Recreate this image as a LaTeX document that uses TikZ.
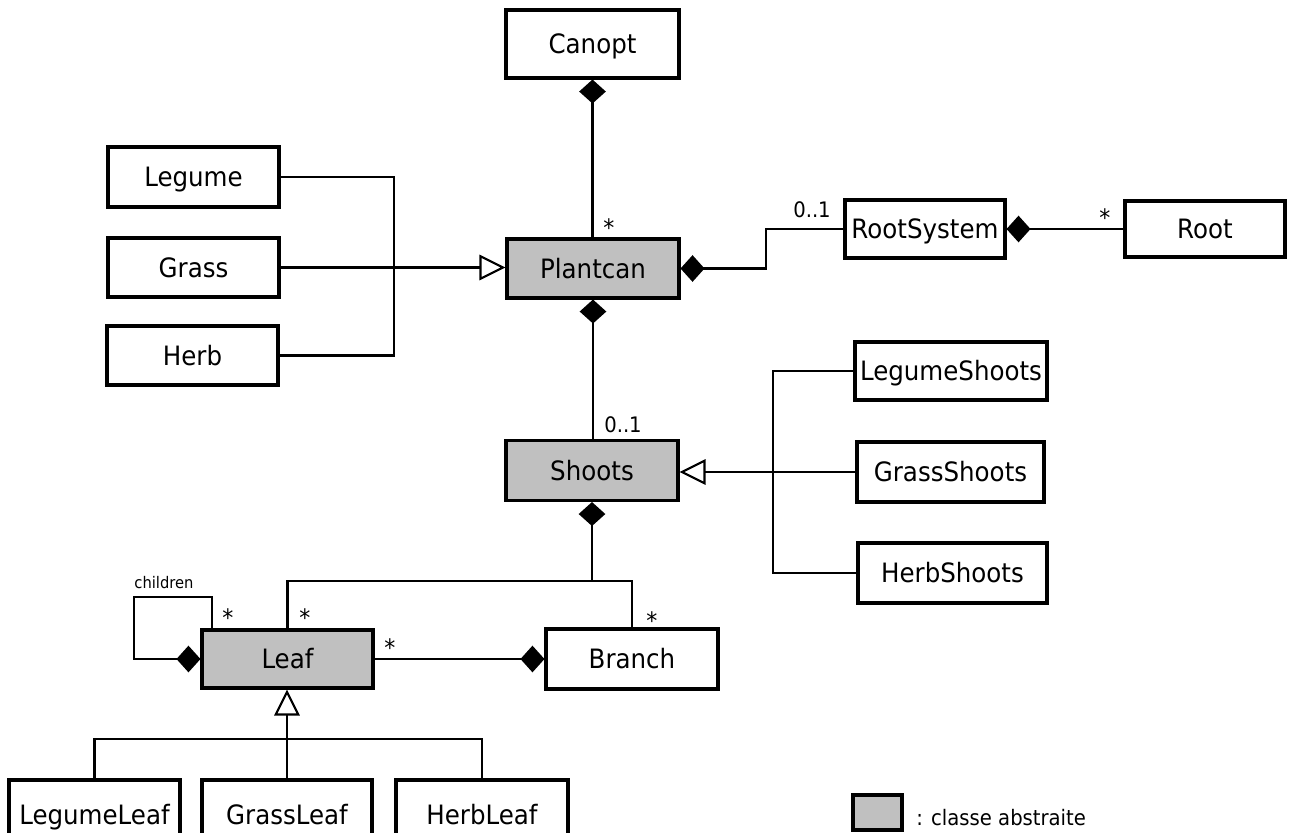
\documentclass[tikz,border=0pt]{standalone}
\usepackage{fontspec}
\setmainfont{DejaVu Sans}[FakeStretch=0.92]
\usetikzlibrary{arrows.meta}
\definecolor{abstractgray}{HTML}{C0C0C0}
\tikzset{
  cls/.style={draw=black, line width=2.3pt, fill=white, inner sep=0pt,
    font=\fontsize{20pt}{24pt}\selectfont, text height=14.6pt, text depth=0pt},
  abscls/.style={cls, fill=abstractgray},
  conn/.style={line width=2pt, line join=miter},
  comp/.tip={Diamond[length=18pt 0 1, width=20pt 0 1]},
  gen/.tip={Triangle[fill=white, length=19.5pt 0 1, width=19pt 0 1, line width=1.6pt]},
  mult/.style={anchor=base, inner sep=0pt, font=\fontsize{16pt}{18pt}\selectfont},
  star/.style={anchor=base, inner sep=0pt, font=\fontsize{18pt}{20pt}\selectfont},
  role/.style={anchor=base, inner sep=0pt, font=\fontsize{12pt}{14pt}\selectfont},
}
\begin{document}
\begin{tikzpicture}[x=0.75pt, y=-0.75pt]
\useasboundingbox (0,0) rectangle (1289,832);
\clip (0,0) rectangle (1289,832);

% classes
\node[cls, minimum width=129.75pt, minimum height=51pt] (Canopt) at (592.5,44) {Canopt};
\node[abscls, minimum width=129pt, minimum height=44.25pt] (Plantcan) at (593,268.5) {Plantcan};
\node[cls, minimum width=128.25pt, minimum height=45pt] (Legume) at (193.5,177) {Legume};
\node[cls, minimum width=128.25pt, minimum height=44.25pt] (Grass) at (193.5,267.5) {Grass};
\node[cls, minimum width=128.25pt, minimum height=44.25pt] (Herb) at (192.5,355.5) {Herb};
\node[cls, minimum width=120pt, minimum height=43.5pt] (RootSystem) at (925,229) {RootSystem};
\node[cls, minimum width=120pt, minimum height=42pt] (Root) at (1205,229) {Root};
\node[abscls, minimum width=129pt, minimum height=45pt] (Shoots) at (592,470.5) {Shoots};
\node[cls, minimum width=144pt, minimum height=43.5pt] (LegumeShoots) at (951,371) {LegumeShoots};
\node[cls, minimum width=140.25pt, minimum height=45pt] (GrassShoots) at (950.5,472) {GrassShoots};
\node[cls, minimum width=141.75pt, minimum height=45pt] (HerbShoots) at (952.5,573) {HerbShoots};
\node[abscls, minimum width=128.25pt, minimum height=43.5pt] (Leaf) at (287.5,659) {Leaf};
\node[cls, minimum width=129pt, minimum height=45pt] (Branch) at (632,659) {Branch};
\node[cls, minimum width=128.25pt, minimum height=52.5pt] (LegumeLeaf) at (94.5,815) {LegumeLeaf};
\node[cls, minimum width=127.5pt, minimum height=52.5pt] (GrassLeaf) at (287,815) {GrassLeaf};
\node[cls, minimum width=129pt, minimum height=52.5pt] (HerbLeaf) at (482,815) {HerbLeaf};

% junction points of the connectors
\coordinate (busP) at (394,268);
\coordinate (rsBend) at (766,250);
\coordinate (busS) at (773,471);
\coordinate (jS) at (592,581);
\coordinate (loopTL) at (134,597);
\coordinate (loopEnd) at (212,630);
\coordinate (jL) at (287,739);

% Canopt -- Plantcan
\draw[conn, comp-] (Canopt.south) -- (Canopt.south |- Plantcan.north);
\node[star] (mCanopt) at (609,236) {*};

% Plantcan subclasses
\draw[conn] (Legume.east) -| (busP) |- (Herb.east);
\draw[conn, -gen] (Grass.east) -- (Grass.east -| Plantcan.west);

% Plantcan -- RootSystem -- Root
\draw[conn, comp-] (Plantcan.east) -| (rsBend) |- (RootSystem.west);
\node[mult] (mRootSystem) at (812,217) {0..1};
\draw[conn, comp-] (RootSystem.east) -- (Root.west);
\node[star] (mRoot) at (1105,226) {*};

% Plantcan -- Shoots
\draw[conn, comp-] (Plantcan.south) -- (Plantcan.south |- Shoots.north);
\node[mult] (mShoots) at (623,432) {0..1};

% Shoots subclasses
\draw[conn] (LegumeShoots.west) -| (busS) |- (HerbShoots.west);
\draw[conn, -gen] (GrassShoots.west) -- (GrassShoots.west -| Shoots.east);

% Shoots -- Leaf / Branch
\draw[conn, comp-] (Shoots.south) -- (jS);
\draw[conn] (Leaf.north) |- (jS) -| (Branch.north);
\node[star] (mLeafTop) at (305,626) {*};
\node[star] (mBranchTop) at (652,629) {*};

% Leaf -- Branch
\draw[conn, -comp] (Leaf.east) -- (Branch.west);
\node[star] (mLeafBranch) at (390,656) {*};

% Leaf children loop
\draw[conn, comp-] (Leaf.west) -| (loopTL) -| (loopEnd);
\node[role] (lChildren) at (164,588) {children};
\node[star] (mChildren) at (228,626) {*};

% Leaf subclasses
\draw[conn, -gen] (GrassLeaf.north) -- (GrassLeaf.north |- Leaf.south);
\draw[conn] (LegumeLeaf.north) |- (jL) -| (HerbLeaf.north);

% legend
\node[abscls, minimum width=36.75pt, minimum height=26.25pt] (legendBox) at (877.5,812.5) {};
\node[anchor=base west, inner sep=0pt, font=\fontsize{16pt}{18pt}\selectfont] (legendText) at (916,825) {: classe abstraite};
\end{tikzpicture}
\end{document}
